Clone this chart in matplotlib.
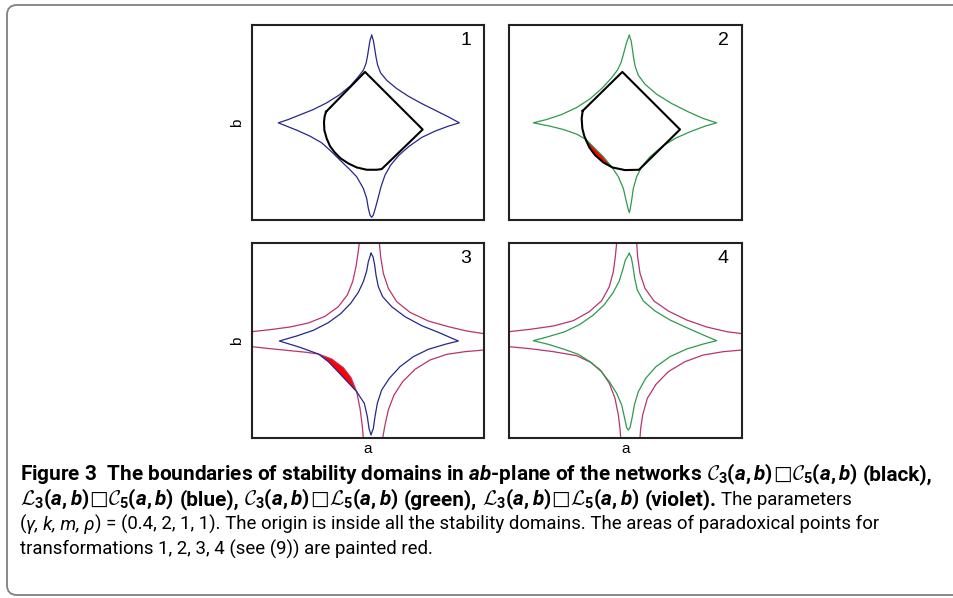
import matplotlib
matplotlib.use('Agg')
import matplotlib.pyplot as plt
from matplotlib.patches import FancyBboxPatch
from matplotlib.transforms import IdentityTransform

CAP_FONT = 'Roboto'

plt.rcParams.update({
    'font.family': [CAP_FONT, 'DejaVu Sans'],
    'mathtext.fontset': 'custom',
    'mathtext.rm': CAP_FONT + ':bold',
    'mathtext.it': CAP_FONT + ':italic:bold',
    'mathtext.bf': CAP_FONT + ':bold',
    'mathtext.cal': 'cmsy10',
    'mathtext.fallback': 'stix',
})

# curves, (a, b) in each panel's own units (b grows downward)
blue_1 = [(365, 45), (370, 60), (374, 85), (378, 110), (383, 135), (392, 158), (410, 180),
          (440, 205), (475, 228), (515, 250), (555, 270), (595, 290), (628, 308),
          (595, 318), (555, 333), (515, 352), (478, 378), (447, 405), (422, 435), (405, 465),
          (393, 500), (384, 535), (376, 565), (370, 585), (365, 592),
          (360, 585), (355, 565), (350, 535), (340, 505), (320, 470), (298, 447), (270, 420),
          (245, 395), (215, 368), (180, 348), (140, 330), (110, 318), (85, 308),
          (115, 298), (150, 284), (190, 268), (230, 248), (268, 224), (300, 198), (323, 172),
          (340, 150), (348, 130), (352, 110), (356, 85), (360, 60)]
black_1 = [(228, 275), (345, 155), (518, 328), (395, 447), (380, 449), (350, 449), (320, 442),
           (295, 430), (272, 415), (255, 398), (240, 378), (230, 355), (223, 330), (222, 305),
           (224, 288)]
red_1 = [(255, 393), (265, 405), (278, 417), (270, 410), (260, 400)]

green_2 = [(388, 45), (393, 60), (397, 85), (401, 115), (406, 140), (415, 165), (435, 192),
           (470, 222), (515, 250), (565, 275), (610, 295), (650, 308),
           (615, 318), (570, 335), (525, 355), (485, 380), (450, 410), (425, 440), (410, 470),
           (400, 505), (395, 540), (391, 565), (388, 578),
           (384, 565), (378, 540), (370, 505), (355, 470), (335, 440), (310, 410), (285, 385),
           (258, 358), (230, 342), (190, 328), (150, 318), (100, 308),
           (140, 298), (185, 283), (230, 262), (270, 236), (305, 205), (333, 175), (352, 150),
           (363, 127), (370, 103), (376, 80), (382, 60)]
black_2 = [(248, 272), (367, 155), (540, 328), (417, 449), (375, 450), (337, 442), (310, 427),
           (285, 405), (268, 382), (259, 362), (253, 348), (247, 325), (245, 295)]
red_2 = [(258, 358), (268, 382), (285, 405), (310, 427), (335, 440), (310, 410), (285, 385)]

blue_3 = [(363, 55), (369, 65), (374, 90), (378, 120), (385, 155), (398, 185), (425, 215),
          (465, 245), (515, 272), (565, 292), (625, 318),
          (585, 328), (535, 343), (490, 365), (450, 395), (418, 430), (395, 465), (382, 505),
          (375, 545), (370, 580), (363, 600),
          (357, 580), (352, 545), (343, 505), (320, 470), (290, 438), (262, 408), (235, 380),
          (205, 357), (150, 337), (88, 318),
          (140, 303), (190, 286), (235, 263), (272, 236), (302, 205), (325, 172), (340, 140),
          (350, 108), (355, 80)]
violet_3 = [
    [(6, 290), (60, 284), (120, 276), (175, 264), (225, 244), (265, 215), (292, 180),
     (308, 140), (318, 95), (324, 55), (328, 24)],
    [(388, 24), (392, 65), (400, 115), (415, 160), (440, 200), (480, 232), (535, 258),
     (595, 275), (650, 288), (702, 296)],
    [(6, 335), (60, 341), (120, 347), (170, 352), (205, 357), (245, 372), (280, 398),
     (303, 428), (320, 470), (330, 520), (336, 565), (340, 609)],
    [(702, 345), (645, 350), (590, 358), (540, 375), (495, 403), (458, 440), (432, 480),
     (415, 525), (405, 570), (398, 609)],
]
red_3 = [(205, 357), (245, 372), (280, 398), (303, 428), (320, 470), (290, 438), (262, 408),
         (235, 380)]

green_4 = [(388, 55), (394, 68), (399, 95), (404, 130), (412, 165), (430, 198), (465, 228),
           (510, 255), (560, 278), (610, 300), (650, 317),
           (610, 327), (560, 342), (510, 365), (468, 395), (437, 430), (415, 470), (403, 510),
           (396, 550), (390, 578), (385, 585),
           (380, 578), (374, 550), (365, 510), (350, 475), (328, 440), (300, 405), (270, 380),
           (235, 358), (190, 342), (145, 328), (100, 317),
           (145, 305), (195, 290), (240, 268), (280, 240), (312, 210), (338, 175), (357, 140),
           (368, 105), (376, 75)]
violet_4 = [
    [(27, 290), (90, 283), (160, 273), (220, 257), (268, 230), (305, 197), (328, 155),
     (340, 110), (346, 65), (350, 24)],
    [(410, 24), (413, 65), (420, 115), (435, 160), (462, 198), (505, 228), (560, 255),
     (620, 276), (680, 290), (726, 296)],
    [(27, 335), (90, 341), (160, 350), (230, 362), (272, 382), (305, 410), (328, 445),
     (345, 490), (355, 540), (360, 580), (362, 609)],
    [(726, 345), (670, 350), (610, 360), (555, 380), (505, 410), (468, 448), (442, 490),
     (428, 540), (422, 580), (420, 609)],
]
red_4 = [(262, 374), (285, 390), (305, 408), (325, 432), (300, 402), (275, 382)]

BLUE = '#27278c'
GREEN = '#2f9a4c'
VIOLET = '#b8346c'

W, H = 954, 598
fig = plt.figure(figsize=(W / 100, H / 100), dpi=100)

# outer rounded frame (runs off the right edge), in pixels from bottom-left
fig.patches.append(FancyBboxPatch((7, H - 595), 1200, 590,
                                  boxstyle='round,pad=0,rounding_size=10',
                                  transform=IdentityTransform(), fill=False,
                                  edgecolor='#808080', linewidth=1.3))

panels = [
    dict(box=(252, 25, 484, 220), xlim=(6, 702), ylim=(600, 14), num='1',
         closed=[(blue_1, BLUE, 0.9), (black_1, 'black', 1.5)], open=[], red=red_1),
    dict(box=(509, 25, 742, 220), xlim=(27, 726), ylim=(600, 14), num='2',
         closed=[(green_2, GREEN, 0.9), (black_2, 'black', 1.5)], open=[], red=red_2),
    dict(box=(252, 243, 484, 438), xlim=(6, 702), ylim=(609, 24), num='3',
         closed=[(blue_3, BLUE, 0.9)], open=[(c, VIOLET, 0.9) for c in violet_3], red=red_3),
    dict(box=(509, 243, 742, 438), xlim=(27, 726), ylim=(609, 24), num='4',
         closed=[(green_4, GREEN, 0.9)], open=[(c, VIOLET, 0.9) for c in violet_4], red=red_4),
]

for p in panels:
    x0, y0, x1, y1 = p['box']
    ax = fig.add_axes([x0 / W, 1 - y1 / H, (x1 - x0) / W, (y1 - y0) / H])
    rx, ry = zip(*p['red'])
    ax.fill(rx, ry, color='red', lw=0, zorder=1)
    for pts, col, lw in p['open']:
        xs, ys = zip(*pts)
        ax.plot(xs, ys, color=col, lw=lw, zorder=2)
    for pts, col, lw in p['closed']:
        xs, ys = zip(*(pts + pts[:1]))
        ax.plot(xs, ys, color=col, lw=lw, zorder=3)
    ax.set_xlim(*p['xlim'])
    ax.set_ylim(*p['ylim'])
    ax.set_xticks([])
    ax.set_yticks([])
    for s in ax.spines.values():
        s.set_linewidth(1.5)
        s.set_color('#222222')
    ax.text(0.92, 0.92, p['num'], transform=ax.transAxes, ha='center', va='center',
            family='Liberation Sans', fontsize=14)

for yc in (123, 341):
    fig.text(237 / W, 1 - yc / H, 'b', rotation=90, ha='center', va='center',
             family='Liberation Sans', fontsize=11)
for xc in (368, 626):
    fig.text(xc / W, 1 - 449 / H, 'a', ha='center', va='center',
             family='Liberation Sans', fontsize=11)

# caption
renderer = fig.canvas.get_renderer()


def width(s, kw):
    t = fig.text(0, 0, s, **kw)
    w = t.get_window_extent(renderer).width
    t.remove()
    return w


def write_line(pieces, x, y, draw=True):
    for s, kw in pieces:
        if s == ' ':
            x += width('x x', kw) - width('xx', kw)
            continue
        if draw:
            t = fig.text(x / W, 1 - y / H, s, va='baseline', ha='left', **kw)
            x += t.get_window_extent(renderer).width
        else:
            x += width(s, kw)
    return x


def caption(fb, fr):
    bold = dict(fontsize=fb, fontweight='bold')
    box = dict(fontsize=fb * 0.95, family='DejaVu Sans')
    reg = dict(fontsize=fr)
    ital = dict(fontsize=fr, fontstyle='italic')

    def product(left, right):
        return [(left, bold), ('□', box), (right, bold)]

    line1 = ([(r'Figure 3  The boundaries of stability domains in $ab$-plane of the networks', bold),
              (' ', bold)]
             + product(r'$\mathcal{C}_3(a,b)$', r'$\mathcal{C}_5(a,b)$')
             + [(' ', bold), ('(black),', bold)])
    line2 = (product(r'$\mathcal{L}_3(a,b)$', r'$\mathcal{C}_5(a,b)$')
             + [(' ', bold), ('(blue),', bold), (' ', bold)]
             + product(r'$\mathcal{C}_3(a,b)$', r'$\mathcal{L}_5(a,b)$')
             + [(' ', bold), ('(green),', bold), (' ', bold)]
             + product(r'$\mathcal{L}_3(a,b)$', r'$\mathcal{L}_5(a,b)$')
             + [(' ', bold), ('(violet).', bold), (' ', reg), ('The parameters', reg)])
    line3 = [('(', reg), ('γ, k, m, ρ', ital),
             (') = (0.4, 2, 1, 1). The origin is inside all the stability domains. '
              'The areas of paradoxical points for', reg)]
    line4 = [('transformations 1, 2, 3, 4 (see (9)) are painted red.', reg)]
    return [line1, line2, line3, line4]


# bold line 1 runs from x=20 to about 936, regular line 3 to about 880
trial = 10
fb = trial * (936 - 20) / write_line(caption(trial, trial)[0], 0, 0, draw=False)
fr = trial * (880 - 20) / write_line(caption(trial, trial)[2], 0, 0, draw=False)
for line, y in zip(caption(fb, fr), (480, 505, 530, 555)):
    write_line(line, 20, y)

fig.savefig('out.png', dpi=100)
